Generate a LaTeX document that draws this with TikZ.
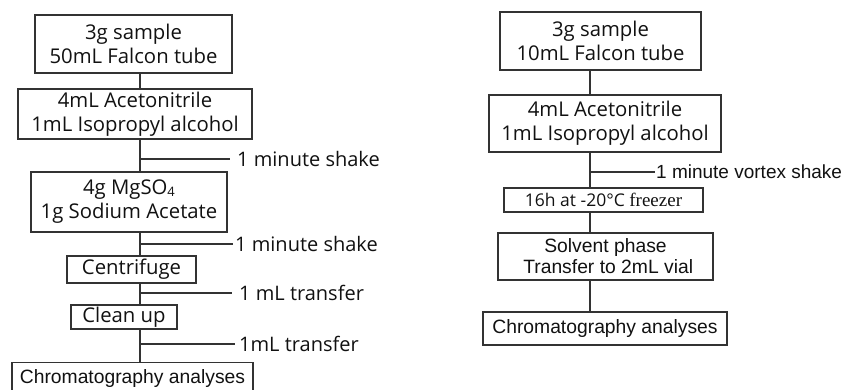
\documentclass[tikz,border=0pt]{standalone}
\usepackage{fontspec}
\setmainfont{Open Sans}
\newfontfamily\arialf{Liberation Sans}
\newfontfamily\timesf{Liberation Serif}
\definecolor{ink}{HTML}{111111}
\definecolor{linec}{HTML}{333333}
\begin{document}
\begin{tikzpicture}[x=1pt,y=-1pt,
  box/.style={draw=linec,line width=1.4pt,inner sep=0pt,align=center,text=ink,
    font=\fontsize{20.3}{24}\selectfont},
  abox/.style={box,font=\arialf\fontsize{19.3}{21}\selectfont},
  lab/.style={anchor=west,inner sep=1pt,text=ink,font=\fontsize{20}{24}\selectfont},
  alab/.style={lab,font=\arialf\fontsize{19}{22}\selectfont},
  conn/.style={draw=linec,line width=1.4pt}]
\useasboundingbox (0,0) rectangle (842,389);
\begin{scope}
\clip (0,0) rectangle (842,389);
% left column
\coordinate (sl) at (140,0);
\node[box,minimum width=197,minimum height=58] (L1) at (133.5,44) {3g sample\\50mL Falcon tube};
\node[box,minimum width=234,minimum height=50] (L2) at (135,114) {4mL Acetonitrile\\1mL Isopropyl alcohol};
\node[box,minimum width=196,minimum height=60] (L3) at (129,202) {4g MgSO\raisebox{-2pt}{\fontsize{13}{13}\selectfont 4}\\1g Sodium Acetate};
\node[box,minimum width=129,minimum height=27] (L4) at (131.5,269.5) {Centrifuge};
\node[box,minimum width=106,minimum height=24] (L5) at (124,317) {Clean up};
\node[abox,minimum width=241,minimum height=32,anchor=north] (L6) at (132.5,362) {Chromatography analyses};
\draw[conn] (L1.south -| sl) -- (L2.north -| sl);
\draw[conn] (L2.south -| sl) -- (L3.north -| sl);
\draw[conn] (L3.south -| sl) -- (L4.north -| sl);
\draw[conn] (L4.south -| sl) -- (L5.north -| sl);
\draw[conn] (L5.south -| sl) -- (L6.north -| sl);
\node[lab] (t1) at (236,159) {1 minute shake};
\node[lab] (t2) at (234,244) {1 minute shake};
\node[lab] (t3) at (238,293) {1 mL transfer};
\node[lab] (t4) at (238,344) {1mL transfer};
\draw[conn] (sl |- t1) -- ([xshift=-6pt]t1.west);
\draw[conn] (sl |- t2) -- ([xshift=-1pt]t2.west);
\draw[conn] (sl |- t3) -- ([xshift=-6pt]t3.west);
\draw[conn] (sl |- t4) -- ([xshift=-3pt]t4.west);
% right column
\coordinate (sr) at (590,0);
\node[box,minimum width=201,minimum height=58] (R1) at (600.5,41) {3g sample\\10mL Falcon tube};
\node[box,minimum width=232,minimum height=57] (R2) at (605,123.5) {4mL Acetonitrile\\1mL Isopropyl alcohol};
\node[box,minimum width=199,minimum height=24,font=\fontsize{17.5}{20}\selectfont] (R3) at (603.5,200) {16h at -20°C {\timesf\fontsize{19}{20}\selectfont freezer}};
\node[abox,minimum width=215,minimum height=47] (R4) at (605.5,256.5) {Solvent phase\\\ Transfer to 2mL vial};
\node[abox,minimum width=244,minimum height=33] (R5) at (605,328.5) {Chromatography analyses};
\draw[conn] (R1.south -| sr) -- (R2.north -| sr);
\draw[conn] (R2.south -| sr) -- (R3.north -| sr);
\draw[conn] (R3.south -| sr) -- (R4.north -| sr);
\draw[conn] (R4.south -| sr) -- (R5.north -| sr);
\node[alab] (t5) at (655,172) {1 minute vortex shake};
\draw[conn] (sr |- t5) -- (t5.west);
\end{scope}
\end{tikzpicture}
\end{document}
